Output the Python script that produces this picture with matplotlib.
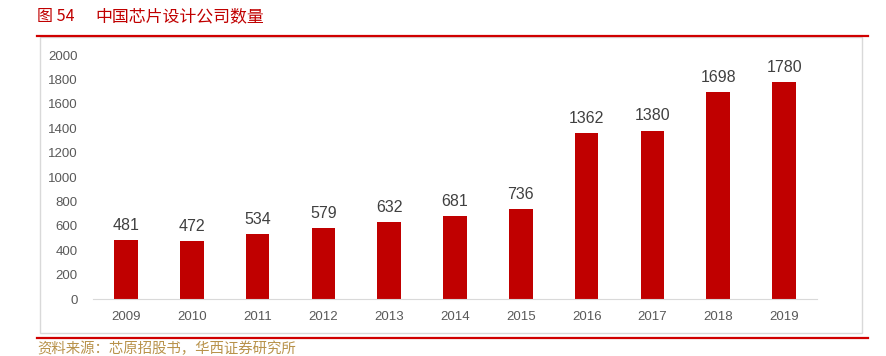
import matplotlib.pyplot as plt
from matplotlib.patches import Rectangle
from matplotlib.lines import Line2D

plt.rcParams['font.family'] = ['Liberation Sans', 'Noto Sans CJK SC', 'DejaVu Sans']

years = ['2009', '2010', '2011', '2012', '2013', '2014', '2015', '2016', '2017', '2018', '2019']
counts = [481, 472, 534, 579, 632, 681, 736, 1362, 1380, 1698, 1780]
yticks = [0, 200, 400, 600, 800, 1000, 1200, 1400, 1600, 1800, 2000]

W, H = 887, 356
fig = plt.figure(figsize=(W / 100, H / 100), dpi=100)

# outer frame and red rules
fig.add_artist(Rectangle((40 / W, 1 - 333 / H), 822 / W, 296 / H, transform=fig.transFigure,
                         fill=False, edgecolor='#d9d9d9', linewidth=1))
fig.add_artist(Line2D([37 / W, 868 / W], [1 - 36 / H, 1 - 36 / H], color='#d00000', linewidth=1.6))
fig.add_artist(Line2D([37 / W, 868 / W], [1 - 338 / H, 1 - 338 / H], color='#d00000', linewidth=1.6))

fig.text(37 / W, 1 - 16 / H, '图 54', color='#c00000', fontsize=11.5, va='center',
         family=['Noto Sans CJK SC'])
fig.text(95 / W, 1 - 16 / H, '中国芯片设计公司数量', color='#c00000', fontsize=12.2, va='center',
         family=['Noto Sans CJK SC'])
fig.text(37 / W, 1 - 349 / H, '资料来源：芯原招股书，华西证券研究所', color='#b8924a', fontsize=10.4,
         va='center', family=['Noto Sans CJK SC'])

ax = fig.add_axes([93 / W, 1 - 299 / H, 724 / W, 244 / H])
ax.bar(range(len(years)), counts, width=0.36, color='#c00000')
for i, v in enumerate(counts):
    ax.text(i, v + 60, str(v), ha='center', va='bottom', fontsize=11.5, color='#404040')

ax.set_xlim(-0.5, len(years) - 0.5)
ax.set_ylim(0, 2000)
ax.set_yticks(yticks)
ax.set_xticks(range(len(years)))
ax.set_xticklabels(years)
ax.tick_params(axis='both', length=0, labelsize=9.5, labelcolor='#595959')
ax.tick_params(axis='x', pad=9)
ax.tick_params(axis='y', pad=11)
for s in ['top', 'right', 'left']:
    ax.spines[s].set_visible(False)
ax.spines['bottom'].set_color('#d9d9d9')
ax.patch.set_alpha(0)

plt.savefig('out.png', dpi=100)
